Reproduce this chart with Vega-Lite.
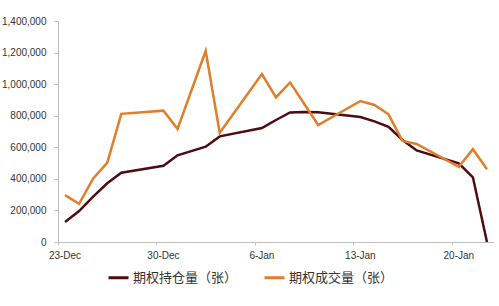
{
  "$schema": "https://vega.github.io/schema/vega-lite/v6.json",
  "width": 436,
  "height": 221,
  "autosize": {"type": "none"},
  "padding": {"left": 58, "top": 21, "right": 5, "bottom": 64},
  "background": "white",
  "config": {
    "view": {"stroke": null},
    "axis": {
      "grid": false,
      "domainColor": "#BFBFBF",
      "tickColor": "#BFBFBF",
      "labelColor": "#333333",
      "labelFont": "Liberation Sans",
      "labelFontSize": 10,
      "title": null
    }
  },
  "data": {
    "values": [
      {"date": "2019-12-23", "series": "期权持仓量（张）", "value": 127000},
      {"date": "2019-12-24", "series": "期权持仓量（张）", "value": 196000},
      {"date": "2019-12-25", "series": "期权持仓量（张）", "value": 287000},
      {"date": "2019-12-26", "series": "期权持仓量（张）", "value": 372000},
      {"date": "2019-12-27", "series": "期权持仓量（张）", "value": 439000},
      {"date": "2019-12-30", "series": "期权持仓量（张）", "value": 483000},
      {"date": "2019-12-31", "series": "期权持仓量（张）", "value": 549000},
      {"date": "2020-01-02", "series": "期权持仓量（张）", "value": 604000},
      {"date": "2020-01-03", "series": "期权持仓量（张）", "value": 669000},
      {"date": "2020-01-06", "series": "期权持仓量（张）", "value": 722000},
      {"date": "2020-01-07", "series": "期权持仓量（张）", "value": 773000},
      {"date": "2020-01-08", "series": "期权持仓量（张）", "value": 821000},
      {"date": "2020-01-09", "series": "期权持仓量（张）", "value": 823000},
      {"date": "2020-01-10", "series": "期权持仓量（张）", "value": 822000},
      {"date": "2020-01-13", "series": "期权持仓量（张）", "value": 792000},
      {"date": "2020-01-14", "series": "期权持仓量（张）", "value": 764000},
      {"date": "2020-01-15", "series": "期权持仓量（张）", "value": 730000},
      {"date": "2020-01-16", "series": "期权持仓量（张）", "value": 646000},
      {"date": "2020-01-17", "series": "期权持仓量（张）", "value": 580000},
      {"date": "2020-01-20", "series": "期权持仓量（张）", "value": 498000},
      {"date": "2020-01-21", "series": "期权持仓量（张）", "value": 410000},
      {"date": "2020-01-22", "series": "期权持仓量（张）", "value": 0},
      {"date": "2019-12-23", "series": "期权成交量（张）", "value": 297000},
      {"date": "2019-12-24", "series": "期权成交量（张）", "value": 242000},
      {"date": "2019-12-25", "series": "期权成交量（张）", "value": 403000},
      {"date": "2019-12-26", "series": "期权成交量（张）", "value": 502000},
      {"date": "2019-12-27", "series": "期权成交量（张）", "value": 812000},
      {"date": "2019-12-30", "series": "期权成交量（张）", "value": 832000},
      {"date": "2019-12-31", "series": "期权成交量（张）", "value": 716000},
      {"date": "2020-01-02", "series": "期权成交量（张）", "value": 1210000},
      {"date": "2020-01-03", "series": "期权成交量（张）", "value": 692000},
      {"date": "2020-01-06", "series": "期权成交量（张）", "value": 1064000},
      {"date": "2020-01-07", "series": "期权成交量（张）", "value": 916000},
      {"date": "2020-01-08", "series": "期权成交量（张）", "value": 1011000},
      {"date": "2020-01-09", "series": "期权成交量（张）", "value": 876000},
      {"date": "2020-01-10", "series": "期权成交量（张）", "value": 741000},
      {"date": "2020-01-13", "series": "期权成交量（张）", "value": 893000},
      {"date": "2020-01-14", "series": "期权成交量（张）", "value": 868000},
      {"date": "2020-01-15", "series": "期权成交量（张）", "value": 809000},
      {"date": "2020-01-16", "series": "期权成交量（张）", "value": 640000},
      {"date": "2020-01-17", "series": "期权成交量（张）", "value": 621000},
      {"date": "2020-01-20", "series": "期权成交量（张）", "value": 476000},
      {"date": "2020-01-21", "series": "期权成交量（张）", "value": 588000},
      {"date": "2020-01-22", "series": "期权成交量（张）", "value": 461000}
    ]
  },
  "mark": {"type": "line", "strokeWidth": 2.5, "strokeJoin": "miter"},
  "encoding": {
    "x": {
      "field": "date",
      "type": "temporal",
      "timeUnit": "utcyearmonthdate",
      "bandPosition": 0.5,
      "scale": {
        "type": "utc",
        "domain": [
          {"year": 2019, "month": 12, "date": 23, "utc": true},
          {"year": 2020, "month": 1, "date": 23, "utc": true}
        ],
        "nice": false
      },
      "axis": {
        "values": [
          {"year": 2019, "month": 12, "date": 23, "utc": true},
          {"year": 2019, "month": 12, "date": 30, "utc": true},
          {"year": 2020, "month": 1, "date": 6, "utc": true},
          {"year": 2020, "month": 1, "date": 13, "utc": true},
          {"year": 2020, "month": 1, "date": 20, "utc": true}
        ],
        "format": "%-d-%b",
        "tickSize": 3,
        "labelPadding": 5,
        "labelOffset": 6.5,
        "labelFlush": false,
        "labelOverlap": false
      }
    },
    "y": {
      "field": "value",
      "type": "quantitative",
      "scale": {"domain": [0, 1400000], "nice": false},
      "axis": {
        "values": [0, 200000, 400000, 600000, 800000, 1000000, 1200000, 1400000],
        "format": ",d",
        "tickSize": 4,
        "labelPadding": 8
      }
    },
    "color": {
      "field": "series",
      "type": "nominal",
      "scale": {
        "domain": ["期权持仓量（张）", "期权成交量（张）"],
        "range": ["#4E0B10", "#E07E2A"]
      },
      "legend": {
        "title": null,
        "orient": "none",
        "direction": "horizontal",
        "legendX": 49,
        "legendY": 245,
        "symbolType": "stroke",
        "symbolSize": 400,
        "symbolStrokeWidth": 3,
        "labelFont": "Noto Sans CJK SC",
        "labelFontSize": 13,
        "labelColor": "#333333",
        "labelOffset": 3,
        "columnPadding": 20,
        "labelLimit": 300
      }
    }
  }
}
